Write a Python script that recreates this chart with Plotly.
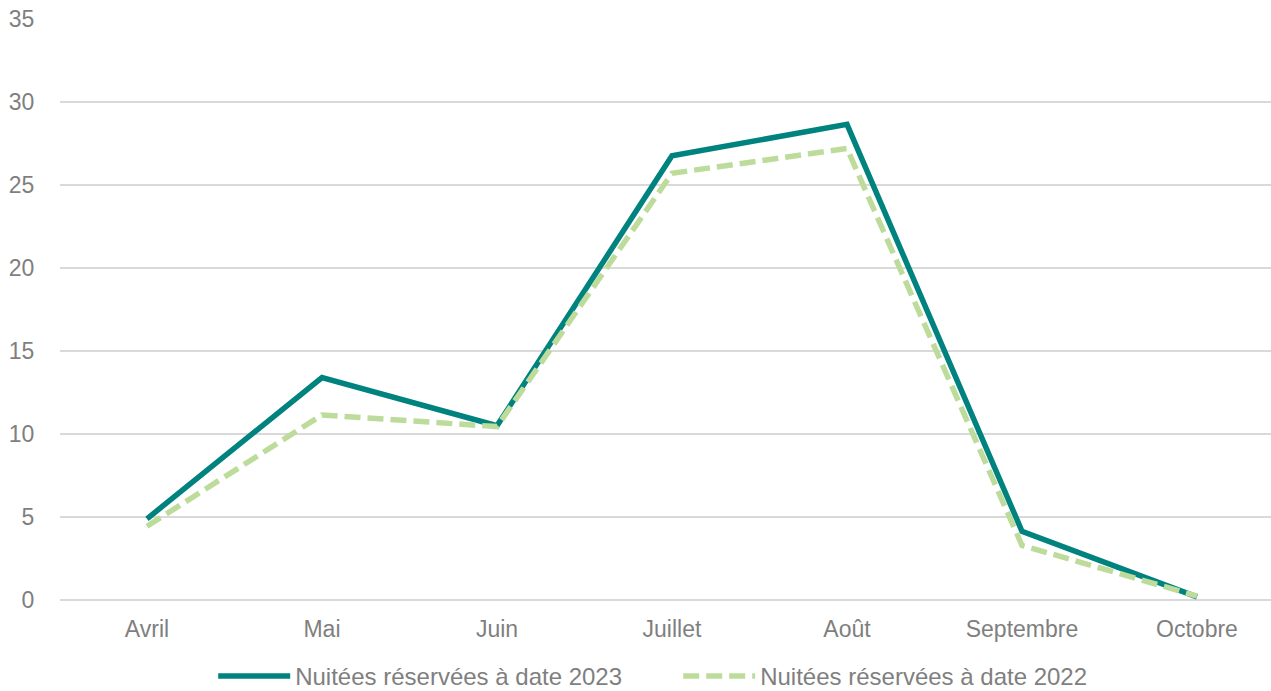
import plotly.graph_objects as go

months = ["Avril", "Mai", "Juin", "Juillet", "Août", "Septembre", "Octobre"]
nuitees_2023 = [4.9, 13.4, 10.5, 26.75, 28.65, 4.15, 0.2]
nuitees_2022 = [4.45, 11.15, 10.45, 25.7, 27.2, 3.3, 0.25]
y_ticks = [0, 5, 10, 15, 20, 25, 30, 35]

fig = go.Figure()
fig.add_trace(go.Scatter(
    x=months, y=nuitees_2023, mode="lines",
    name="Nuitées réservées à date 2023",
    line=dict(color="#00827F", width=5.5),
))
fig.add_trace(go.Scatter(
    x=months, y=nuitees_2022, mode="lines",
    name="Nuitées réservées à date 2022",
    line=dict(color="#BDDC9B", width=5.5, dash="16px,7px"),
))

fig.update_layout(
    width=1271, height=691,
    margin=dict(l=60, r=0, t=18, b=90, autoexpand=False),
    plot_bgcolor="white", paper_bgcolor="white",
    font=dict(family="Liberation Sans, Arial, sans-serif", size=23, color="#7F7F7F"),
    xaxis=dict(
        range=[-0.497, 6.423], showgrid=False, showline=False, zeroline=False,
        ticks="outside", ticklen=7, tickcolor="white",
        tickfont=dict(size=23, color="#7F7F7F"),
    ),
    yaxis=dict(
        range=[-0.05, 35.05], tickvals=y_ticks, showgrid=True, gridcolor="#D9D9D9",
        gridwidth=2, zeroline=True, zerolinecolor="#D9D9D9", zerolinewidth=2,
        showline=False, ticks="outside",
        ticklen=20, tickcolor="white",
        tickfont=dict(size=23, color="#7F7F7F"),
    ),
    legend=dict(
        orientation="h", x=0.1265, xanchor="left", y=-0.1295, yanchor="middle",
        font=dict(size=24, color="#7F7F7F"),
        itemwidth=72, entrywidth=378, entrywidthmode="pixels",
    ),
    showlegend=True,
)

fig.write_html("out.html", config={"displayModeBar": False},
               post_script="document.body.style.margin='0';")
